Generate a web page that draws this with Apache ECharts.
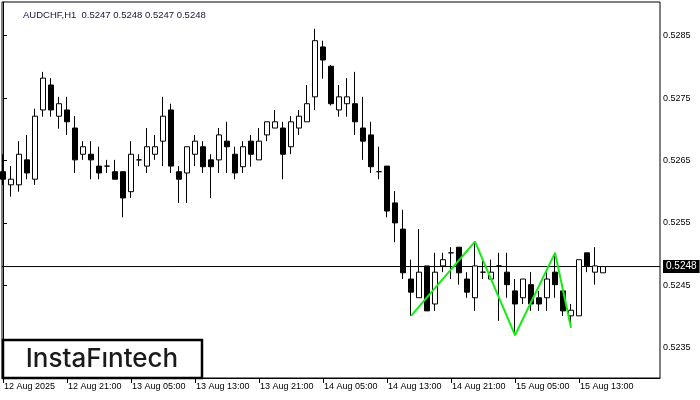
<!DOCTYPE html>
<html>
<head>
<meta charset="utf-8">
<script src="https://cdn.jsdelivr.net/npm/echarts@6/dist/echarts.min.js"></script>
<style>html,body{margin:0;padding:0;background:#fff}#c{width:700px;height:400px}</style>
</head>
<body>
<div id="c"></div>
<script>
// ---- data (hourly candles, AUDCHF H1, 12 Aug 13:00 .. 15 Aug 16:00) ----
const opens = [0.52632,0.52611,0.52611,0.52651,0.52620,0.52731,0.52771,0.52721,0.52731,0.52702,
0.52660,0.52660,0.52641,0.52641,0.52632,0.52632,0.52600,0.52651,0.52641,0.52660,
0.52681,0.52731,0.52632,0.52630,0.52660,0.52672,0.52651,0.52651,0.52681,0.52660,
0.52640,0.52681,0.52651,0.52691,0.52702,0.52702,0.52672,0.52702,0.52712,0.52752,
0.52832,0.52801,0.52731,0.52741,0.52741,0.52702,0.52691,0.52632,0.52641,0.52582,
0.52540,0.52460,0.52430,0.52481,0.52420,0.52481,0.52502,0.52511,0.52460,0.52430,
0.52471,0.52460,0.52481,0.52471,0.52441,0.52430,0.52451,0.52430,0.52430,0.52471,
0.52441,0.52401,0.52401,0.52502,0.52471,0.52470];
const closes = [0.52620,0.52620,0.52660,0.52630,0.52721,0.52782,0.52731,0.52741,0.52712,0.52651,
0.52672,0.52651,0.52630,0.52641,0.52620,0.52590,0.52660,0.52651,0.52672,0.52672,
0.52721,0.52641,0.52620,0.52672,0.52681,0.52640,0.52640,0.52691,0.52672,0.52630,
0.52672,0.52660,0.52681,0.52712,0.52712,0.52660,0.52712,0.52721,0.52741,0.52842,
0.52811,0.52741,0.52752,0.52752,0.52712,0.52681,0.52640,0.52632,0.52569,0.52550,
0.52470,0.52439,0.52471,0.52409,0.52471,0.52491,0.52502,0.52470,0.52439,0.52481,
0.52471,0.52471,0.52481,0.52451,0.52420,0.52460,0.52420,0.52420,0.52460,0.52451,
0.52409,0.52410,0.52491,0.52481,0.52481,0.52480];
const highs = [0.52660,0.52641,0.52681,0.52691,0.52733,0.52792,0.52782,0.52752,0.52752,0.52721,
0.52681,0.52681,0.52672,0.52651,0.52651,0.52632,0.52681,0.52660,0.52702,0.52691,
0.52752,0.52741,0.52641,0.52672,0.52691,0.52681,0.52660,0.52702,0.52712,0.52672,
0.52681,0.52691,0.52702,0.52712,0.52731,0.52712,0.52721,0.52731,0.52771,0.52861,
0.52842,0.52803,0.52771,0.52782,0.52792,0.52752,0.52712,0.52672,0.52641,0.52601,
0.52571,0.52491,0.52540,0.52481,0.52502,0.52502,0.52511,0.52511,0.52471,0.52521,
0.52491,0.52491,0.52502,0.52502,0.52460,0.52460,0.52471,0.52441,0.52471,0.52502,
0.52451,0.52420,0.52491,0.52502,0.52511,0.52480];
const lows = [0.52611,0.52592,0.52600,0.52620,0.52611,0.52720,0.52720,0.52701,0.52691,0.52630,
0.52651,0.52620,0.52620,0.52630,0.52620,0.52559,0.52590,0.52641,0.52630,0.52651,
0.52641,0.52630,0.52582,0.52582,0.52641,0.52630,0.52590,0.52630,0.52630,0.52620,
0.52630,0.52640,0.52651,0.52681,0.52702,0.52620,0.52660,0.52691,0.52712,0.52731,
0.52781,0.52738,0.52720,0.52720,0.52691,0.52651,0.52630,0.52620,0.52559,0.52519,
0.52460,0.52401,0.52430,0.52409,0.52409,0.52471,0.52460,0.52451,0.52430,0.52409,
0.52460,0.52460,0.52393,0.52430,0.52370,0.52420,0.52409,0.52409,0.52409,0.52430,
0.52401,0.52390,0.52401,0.52471,0.52451,0.52470];

const timeTickIdx = [0,8,16,24,32,40,48,56,64,72];
const timeTickLabels = ["12 Aug 2025","12 Aug 21:00","13 Aug 05:00","13 Aug 13:00","13 Aug 21:00",
  "14 Aug 05:00","14 Aug 13:00","14 Aug 21:00","15 Aug 05:00","15 Aug 13:00"];
const priceTicks = [0.5235,0.5245,0.5255,0.5265,0.5275,0.5285];
const currentPrice = 0.5248;
const titleText = "AUDCHF,H1  0.5247 0.5248 0.5247 0.5248";

// pattern zigzag
const patternIdx = [51,59,64,69,71];
const patternPrice = [0.52401,0.52520,0.52370,0.52502,0.52382];

// axis extents
const X_MIN = -0.125, X_MAX = 82.125;
const Y_MIN = 0.523014, Y_MAX = 0.52904;

// ---- build ----
const candleData = opens.map((o,i)=>[i,o,closes[i],lows[i],highs[i]]);
const patternData = patternIdx.map((x,i)=>[x,patternPrice[i]]);
const priceLineData = [[X_MIN,currentPrice],[X_MAX,currentPrice]];
const labelMap = {};
timeTickIdx.forEach((x,i)=>labelMap[x]=timeTickLabels[i]);

const FONT = "'Liberation Sans', Arial, sans-serif";
const chart = echarts.init(document.getElementById('c'), null, {renderer:'canvas'});
chart.setOption({
  animation:false,
  backgroundColor:'#fff',
  title:{text:titleText,left:18,top:5,textStyle:{fontSize:9.5,fontWeight:'normal',fontFamily:FONT,color:'#15153a'}},
  grid:{left:2,right:40,top:2,bottom:22,show:true,borderColor:'#000',borderWidth:1,backgroundColor:'transparent'},
  xAxis:{type:'value',min:X_MIN,max:X_MAX,
    axisLine:{show:true,lineStyle:{color:'#000',width:1}},
    splitLine:{show:false},
    axisTick:{show:true,customValues:timeTickIdx,length:5,lineStyle:{color:'#000'}},
    axisLabel:{customValues:timeTickIdx,formatter:v=>labelMap[Math.round(v)]||'',align:'left',margin:4,
      fontSize:9,fontFamily:FONT,color:'#000',padding:[0,0,0,1]}},
  yAxis:{type:'value',position:'right',min:Y_MIN,max:Y_MAX,scale:true,
    axisLine:{show:true,lineStyle:{color:'#000',width:1}},
    splitLine:{show:false},
    axisTick:{show:true,customValues:priceTicks,length:4,lineStyle:{color:'#000'}},
    axisLabel:{customValues:priceTicks,formatter:v=>v.toFixed(4),margin:3,fontSize:9,fontFamily:FONT,color:'#000'}},
  series:[
    {type:'line',data:priceLineData,symbol:'none',z:1,silent:true,clip:false,
      lineStyle:{color:'#000',width:1},
      endLabel:{show:true,formatter:()=>currentPrice.toFixed(4),distance:3,
        backgroundColor:'#000',color:'#fff',fontSize:10,fontFamily:FONT,padding:[2,3,1,3]}},
    {type:'candlestick',data:candleData,encode:{x:0,y:[1,2,3,4]},barWidth:5,z:3,
      itemStyle:{color:'#fff',color0:'#000',borderColor:'#000',borderColor0:'#000',borderColorDoji:'#000',borderWidth:1}},
    {type:'line',data:patternData,symbol:'none',z:5,lineStyle:{color:'#11ee11',width:2}}
  ],
  graphic:[
    {type:'rect',z:100,shape:{x:3,y:340,width:199,height:38},style:{fill:'#fff',stroke:'#000',lineWidth:2.5}},
    {type:'text',z:101,x:102,y:359,style:{text:'InstaFıntech',fontFamily:"Inter, 'Open Sans', sans-serif",fontWeight:500,fontSize:26,fill:'#1a1a1a',align:'center',verticalAlign:'middle'}}
  ]
});
</script>
</body>
</html>
